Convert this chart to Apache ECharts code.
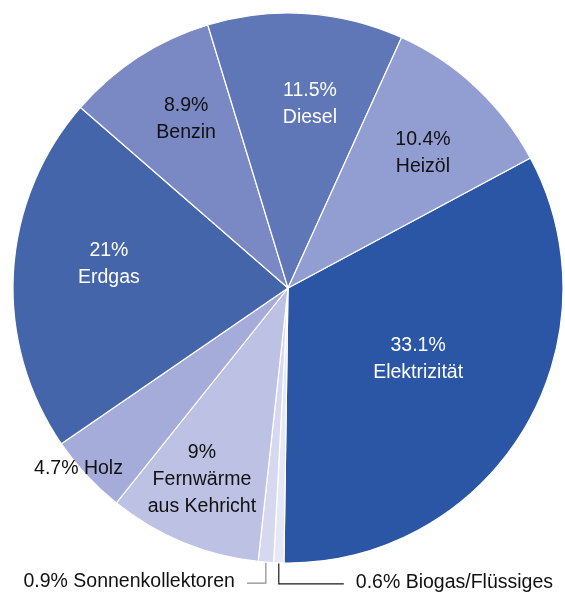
<!DOCTYPE html>
<html>
<head>
<meta charset="utf-8">
<script src="https://cdn.jsdelivr.net/npm/echarts@6/dist/echarts.min.js"></script>
<style>
  html, body { margin: 0; padding: 0; background: #ffffff; }
  #chart { width: 565px; height: 593px; }
</style>
</head>
<body>
<div id="chart"></div>
<script>
// Energy sources, in percent, drawn clockwise from Elektrizität
const categories = [
  'Elektrizität',
  'Biogas/Flüssiges',
  'Sonnenkollektoren',
  'Fernwärme\naus Kehricht',
  'Holz',
  'Erdgas',
  'Benzin',
  'Diesel',
  'Heizöl'
];
const shares = [33.1, 0.6, 0.9, 9, 4.7, 21, 8.9, 11.5, 10.4];

const sliceColors = ['#2b56a5', '#e6e8f6', '#d5d8ef', '#bdc1e4', '#a6acd9', '#4565ab', '#7a89c4', '#5f76b7', '#929ed1'];
const textColors  = ['#ffffff', '#111111', '#111111', '#111111', '#111111', '#ffffff', '#111111', '#ffffff', '#111111'];

// How each label sits. Inside labels: 'radius' is a fraction of the pie
// radius and 'turn' rotates the label (degrees) away from the slice bisector.
// Leader labels hang below the pie on an elbow line.
const labelPlacement = {
  'Elektrizität':            { radius: 0.539, turn: 2.7 },
  'Biogas/Flüssiges':        { leader: true, drop: 21, run: 65, gap: 12, line: '#1a1a1a' },
  'Sonnenkollektoren':       { leader: true, drop: 21, run: -19, gap: 12, line: '#8c8c8c' },
  'Fernwärme\naus Kehricht': { radius: 0.763, turn: -1.8 },
  'Holz':                    { radius: 1.007, turn: -2.1, oneLine: true },
  'Erdgas':                  { radius: 0.657, turn: -4.3 },
  'Benzin':                  { radius: 0.716, turn: -1.8 },
  'Diesel':                  { radius: 0.672, turn: -3.1 },
  'Heizöl':                  { radius: 0.694, turn: -1.9 }
};

const CX = 288, CY = 288, R = 275;

const chart = echarts.init(document.getElementById('chart'), null, { renderer: 'canvas' });

const data = categories.map(function (name, i) {
  const place = labelPlacement[name];
  return {
    name: name,
    value: shares[i],
    itemStyle: { color: sliceColors[i] },
    label: {
      position: place.leader ? 'outside' : 'inside',
      color: textColors[i]
    },
    labelLine: {
      show: !!place.leader,
      lineStyle: { color: place.line || '#000', width: 1.2 }
    }
  };
});

chart.setOption({
  animation: false,
  backgroundColor: '#ffffff',
  series: [{
    type: 'pie',
    center: [CX, CY],
    radius: [0, R],
    startAngle: 28.2,
    clockwise: true,
    avoidLabelOverlap: false,
    silent: true,
    itemStyle: { borderColor: '#ffffff', borderWidth: 1.2 },
    label: {
      show: true,
      fontFamily: '"Liberation Sans", Arial, Helvetica, sans-serif',
      fontSize: 19.5,
      lineHeight: 27,
      align: 'center',
      formatter: function (p) {
        const place = labelPlacement[p.name];
        const sep = (place.oneLine || place.leader) ? ' ' : '\n';
        return p.value + '%' + sep + p.name;
      }
    },
    labelLine: { show: false, length: 10, length2: 10, smooth: false },
    labelLayout: function (p) {
      const place = labelPlacement[categories[p.dataIndex]];
      if (place.leader) {
        const p0 = p.labelLinePoints[0];
        const yLine = p0[1] + place.drop;
        const xEnd = p0[0] + place.run;
        return {
          x: xEnd + (place.run < 0 ? -place.gap : place.gap),
          y: yLine - 1,
          align: place.run < 0 ? 'right' : 'left',
          verticalAlign: 'middle',
          labelLinePoints: [[p0[0], p0[1]], [p0[0], yLine], [xEnd, yLine]]
        };
      }
      // Move the label along its slice: new distance from the centre,
      // and a small rotation about the centre.
      const r = p.labelRect;
      const lx = r.x + r.width / 2;
      const ly = r.y + r.height / 2;
      const ang = Math.atan2(ly - CY, lx - CX) - place.turn * Math.PI / 180;
      const dist = place.radius * R;
      const nx = CX + dist * Math.cos(ang);
      const ny = CY + dist * Math.sin(ang);
      return { dx: nx - lx, dy: ny - ly };
    },
    data: data
  }]
});
</script>
</body>
</html>
